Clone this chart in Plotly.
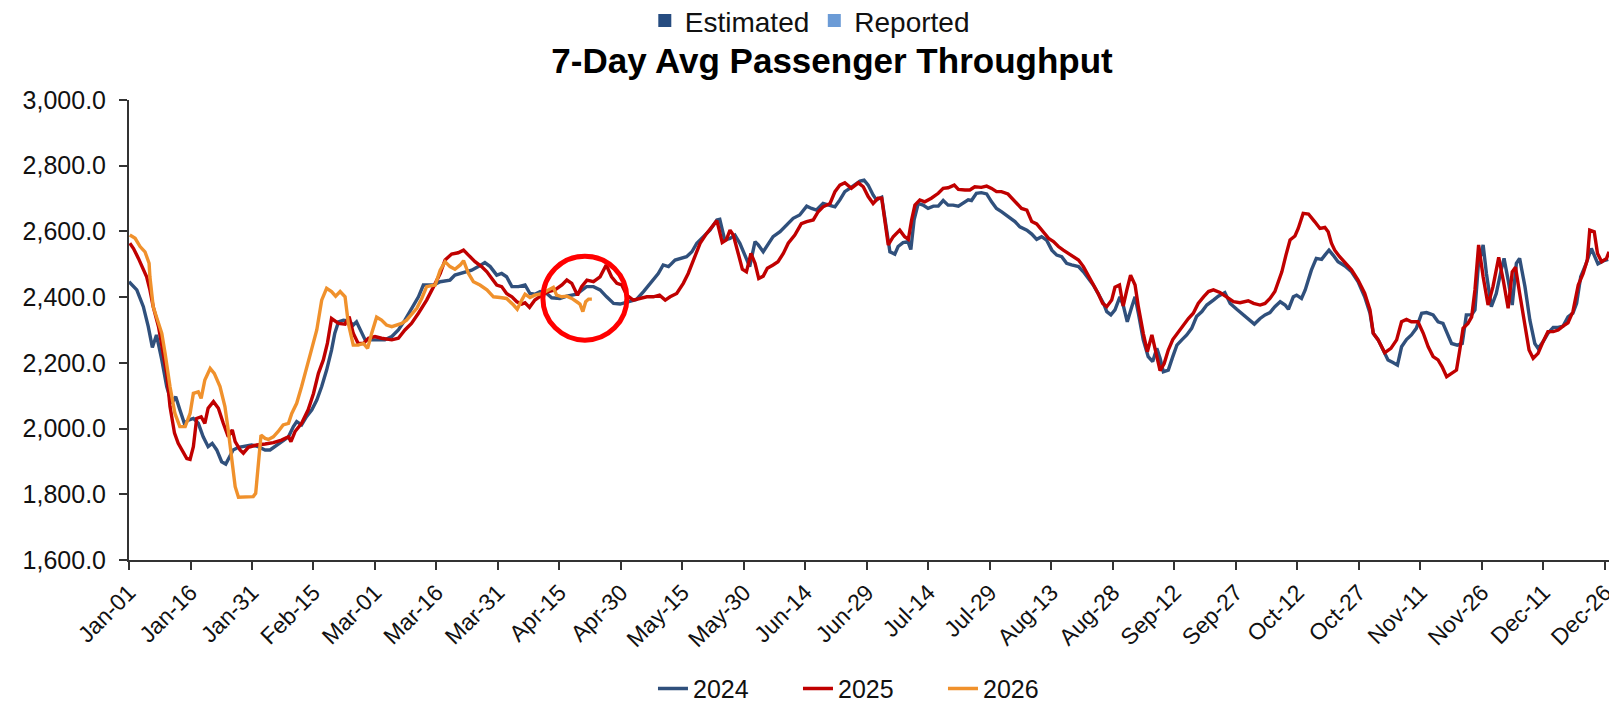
import plotly.graph_objects as go

# day-of-year (Jan-01 = 0, leap-year calendar) and 7-day average throughput (thousands)
DAYS_2024 = [0, 1.9, 3.5, 4.7, 5.7, 6.7, 8.0, 9.2, 10.4, 11.4, 12.4, 13.5, 14.5, 15.7, 16.9, 18.1, 19.3, 20.3, 21.4, 22.6,
             23.6, 24.6, 25.4, 26.7, 28.3, 29.9, 31.5, 33.2, 34.4, 35.6, 37.2, 38.9, 40.1, 40.9, 42.1, 43.3, 44.6, 45.8,
             47.0, 48.2, 49.4, 50.2, 51.1, 52.3, 53.5, 54.7, 55.5, 56.3, 57.6, 59.2, 60.8, 62.4, 64.1, 65.7, 67.3, 68.9,
             70.6, 71.8, 74.3, 75.9, 78.3, 79.5, 81.6, 83.6, 85.2, 86.8, 88.1, 89.7, 90.9, 92.1, 93.4, 95.0, 96.6, 97.8,
             99.0, 100.3, 101.9, 103.1, 105.1, 106.8, 109.2, 111.6, 113.3, 114.9, 116.5, 118.2, 119.8, 121.8, 123.8,
             125.5, 127.1, 129.1, 130.3, 131.6, 133.2, 134.8, 136.0, 137.3, 138.5, 141.7, 143.4, 144.1, 144.7, 145.3,
             146.6, 147.8, 149.0, 150.2, 151.4, 152.7, 153.5, 154.7, 155.9, 157.1, 158.8, 160.4, 162.0, 163.6, 165.3,
             166.5, 167.7, 169.3, 171.0, 172.2, 173.4, 174.6, 175.8, 177.0, 178.3, 179.3, 180.3, 181.5, 182.3, 183.6,
             184.2, 184.8, 185.6, 186.8, 187.6, 188.8, 190.0, 190.7, 191.5, 192.5, 193.7, 194.9, 196.2, 197.4, 198.6,
             199.8, 201.0, 202.3, 203.5, 204.7, 205.5, 206.7, 207.9, 209.2, 210.4, 211.6, 212.8, 214.4, 216.1, 217.3,
             219.0, 220.2, 221.4, 222.6, 223.8, 225.1, 226.3, 227.5, 228.7, 229.9, 231.6, 232.8, 234.0, 235.2, 236.4,
             237.7, 238.5, 239.5, 240.5, 241.7, 242.5, 243.5, 244.6, 245.4, 246.2, 247.4, 248.6, 249.7, 250.7, 251.5,
             252.3, 253.5, 254.6, 255.6, 256.8, 258.0, 259.2, 260.4, 261.7, 262.9, 264.5, 265.7, 267.3, 268.6, 270.2,
             271.8, 273.4, 274.5, 275.9, 277.1, 278.3, 279.5, 280.8, 282.0, 282.8, 284.0, 284.8, 286.0, 286.9, 288.4,
             289.6, 290.9, 291.7, 292.7, 293.7, 294.9, 296.6, 298.2, 299.8, 301.4, 302.7, 303.5, 304.7, 305.9, 307.1,
             308.3, 309.4, 310.4, 311.6, 312.8, 314.0, 315.3, 316.5, 318.1, 319.3, 320.5, 321.6, 322.6, 324.0, 325.2,
             326.2, 327.5, 328.3, 329.1, 330.3, 331.1, 332.3, 333.5, 334.8, 335.4, 336.4, 337.4, 338.4, 339.2, 340.5,
             341.7, 342.9, 343.7, 344.9, 346.1, 347.4, 348.6, 349.8, 351.0, 352.2, 353.1, 354.1, 355.3, 356.7, 358.3,
             359.6, 360.8]
VALUES_2024 = [2447, 2422, 2371, 2310, 2247, 2285, 2209, 2128, 2077, 2097, 2057, 2016, 2026, 2031, 2016, 1975, 1945, 1955,
               1935, 1899, 1892, 1914, 1935, 1943, 1947, 1950, 1945, 1935, 1935, 1945, 1960, 1975, 2006, 2021, 2011, 2036,
               2057, 2087, 2128, 2178, 2239, 2290, 2325, 2330, 2328, 2315, 2325, 2305, 2270, 2270, 2270, 2270, 2280, 2300,
               2330, 2366, 2401, 2437, 2437, 2447, 2452, 2467, 2474, 2482, 2493, 2505, 2493, 2467, 2472, 2462, 2432, 2432,
               2437, 2411, 2409, 2417, 2411, 2398, 2396, 2403, 2409, 2432, 2432, 2422, 2401, 2381, 2379, 2386, 2393, 2417,
               2442, 2472, 2498, 2493, 2513, 2518, 2523, 2538, 2564, 2604, 2635, 2637, 2604, 2574, 2579, 2589, 2564, 2528,
               2493, 2569, 2559, 2538, 2559, 2584, 2599, 2619, 2640, 2650, 2677, 2670, 2665, 2685, 2680, 2675, 2696, 2721,
               2731, 2741, 2753, 2756, 2741, 2711, 2696, 2704, 2655, 2594, 2538, 2531, 2554, 2566, 2569, 2545, 2635, 2685,
               2680, 2670, 2677, 2677, 2694, 2680, 2680, 2677, 2687, 2696, 2694, 2716, 2718, 2714, 2690, 2670, 2660, 2645,
               2630, 2614, 2604, 2592, 2576, 2584, 2574, 2543, 2528, 2523, 2503, 2498, 2493, 2477, 2457, 2437, 2411, 2381,
               2356, 2346, 2361, 2401, 2376, 2325, 2371, 2401, 2351, 2270, 2219, 2204, 2244, 2214, 2173, 2178, 2219, 2254,
               2270, 2285, 2305, 2341, 2356, 2376, 2391, 2403, 2414, 2381, 2363, 2346, 2328, 2318, 2335, 2346, 2353, 2371,
               2386, 2376, 2363, 2401, 2406, 2396, 2422, 2482, 2518, 2515, 2528, 2543, 2528, 2508, 2495, 2477, 2447, 2401,
               2351, 2290, 2270, 2239, 2209, 2201, 2193, 2249, 2271, 2285, 2305, 2351, 2353, 2346, 2325, 2320, 2285, 2259,
               2254, 2259, 2346, 2346, 2361, 2493, 2559, 2472, 2371, 2411, 2488, 2518, 2452, 2376, 2503, 2518, 2432, 2330,
               2259, 2244, 2264, 2290, 2308, 2308, 2312, 2340, 2351, 2381, 2462, 2498, 2548, 2501, 2510, 2515]

DAYS_2025 = [0.2, 1.1, 2.3, 3.5, 4.3, 5.1, 5.9, 7.2, 8.1, 9.2, 10.0, 11.1, 12.0, 13.0, 14.1, 14.9, 15.7, 16.5, 17.6, 18.5,
             19.3, 20.6, 21.8, 23.0, 24.2, 25.2, 25.9, 27.1, 27.9, 29.1, 31.1, 33.2, 35.2, 37.2, 38.9, 39.5, 40.5, 42.1,
             43.7, 45.0, 46.2, 47.4, 48.4, 49.4, 51.1, 52.7, 53.7, 54.7, 55.9, 57.2, 58.4, 60.0, 61.6, 64.1, 65.7, 67.3,
             68.9, 70.6, 72.6, 74.3, 75.9, 77.1, 78.7, 80.3, 81.6, 82.8, 84.4, 86.0, 87.3, 88.5, 89.7, 90.9, 92.1, 93.4,
             94.6, 95.8, 96.6, 97.7, 99.0, 100.7, 102.3, 103.9, 105.6, 106.8, 108.0, 109.4, 110.4, 111.7, 113.3, 114.9,
             116.4, 117.7, 119.0, 120.2, 121.4, 123.0, 124.7, 126.3, 127.9, 129.4, 130.8, 132.0, 133.6, 135.2, 136.4,
             137.7, 139.3, 140.9, 142.1, 143.4, 144.7, 145.7, 146.6, 147.4, 148.6, 149.6, 150.6, 151.7, 152.7, 153.6,
             154.7, 155.7, 157.1, 158.3, 159.6, 160.8, 162.4, 164.0, 165.3, 166.9, 168.1, 169.3, 171.0, 172.2, 173.4,
             174.6, 176.2, 177.9, 179.1, 180.3, 181.5, 182.7, 183.6, 184.4, 185.2, 186.4, 188.0, 189.2, 190.1, 190.9,
             191.7, 192.9, 194.1, 195.7, 197.4, 198.6, 199.8, 201.3, 202.3, 203.9, 205.1, 206.3, 207.9, 209.2, 210.4,
             211.6, 212.8, 214.4, 216.5, 217.7, 219.0, 220.2, 221.4, 223.0, 224.3, 225.5, 226.7, 227.9, 229.1, 230.3,
             231.6, 232.8, 234.0, 235.2, 236.4, 237.5, 238.5, 239.7, 240.5, 241.6, 242.5, 243.4, 244.3, 245.4, 246.2,
             247.4, 248.4, 249.5, 250.4, 251.5, 252.5, 253.5, 254.6, 256.0, 257.2, 258.4, 259.6, 260.8, 262.1, 263.3,
             264.5, 266.1, 267.7, 269.4, 271.0, 273.0, 274.3, 275.9, 277.1, 278.3, 279.5, 280.3, 281.2, 282.2, 283.2,
             284.4, 285.2, 286.4, 287.7, 289.2, 290.5, 291.7, 292.5, 293.3, 294.1, 295.3, 296.6, 298.2, 299.8, 301.4,
             302.7, 303.5, 304.7, 306.3, 307.8, 309.2, 310.4, 311.6, 312.8, 314.4, 315.7, 316.9, 318.1, 319.3, 320.3,
             321.4, 322.6, 323.8, 324.6, 325.4, 326.6, 327.5, 328.3, 329.2, 330.3, 331.5, 332.7, 334.1, 335.2, 336.4,
             337.4, 338.2, 339.2, 340.5, 341.5, 342.5, 343.7, 344.9, 346.1, 347.4, 348.6, 349.8, 351.0, 352.2, 353.5,
             354.7, 355.7, 356.3, 357.4, 358.2, 359.2, 360.4, 361.0]
VALUES_2025 = [2564, 2548, 2518, 2483, 2462, 2422, 2371, 2310, 2249, 2168, 2067, 1986, 1955, 1935, 1909, 1906, 1945, 2031,
               2036, 2016, 2062, 2082, 2062, 2016, 1975, 1996, 1960, 1935, 1925, 1943, 1950, 1953, 1957, 1965, 1975, 1960,
               1991, 2016, 2057, 2107, 2168, 2209, 2260, 2335, 2320, 2318, 2341, 2290, 2259, 2259, 2275, 2280, 2275, 2270,
               2275, 2300, 2320, 2351, 2391, 2432, 2472, 2513, 2531, 2535, 2543, 2528, 2508, 2493, 2477, 2457, 2437, 2432,
               2411, 2401, 2386, 2379, 2383, 2369, 2391, 2406, 2417, 2422, 2437, 2452, 2442, 2406, 2432, 2452, 2447, 2462,
               2498, 2462, 2442, 2437, 2406, 2391, 2396, 2401, 2401, 2406, 2391, 2401, 2411, 2442, 2472, 2513, 2564, 2594,
               2614, 2633, 2566, 2574, 2604, 2589, 2533, 2485, 2477, 2533, 2503, 2457, 2464, 2488, 2498, 2508, 2533, 2564,
               2589, 2624, 2630, 2635, 2660, 2675, 2685, 2721, 2741, 2748, 2731, 2748, 2736, 2706, 2685, 2701, 2701, 2635,
               2559, 2584, 2604, 2584, 2576, 2635, 2680, 2696, 2690, 2701, 2716, 2731, 2733, 2741, 2728, 2726, 2726, 2736,
               2734, 2738, 2731, 2721, 2721, 2714, 2687, 2670, 2665, 2630, 2623, 2599, 2579, 2569, 2554, 2543, 2533, 2521,
               2513, 2493, 2467, 2442, 2411, 2381, 2371, 2391, 2430, 2437, 2373, 2422, 2467, 2437, 2371, 2290, 2234, 2285,
               2239, 2176, 2198, 2239, 2271, 2295, 2315, 2335, 2351, 2381, 2401, 2417, 2422, 2414, 2401, 2386, 2383, 2389,
               2381, 2376, 2381, 2396, 2417, 2442, 2477, 2528, 2574, 2586, 2609, 2655, 2653, 2630, 2609, 2612, 2599, 2564,
               2543, 2523, 2505, 2483, 2452, 2412, 2361, 2290, 2270, 2231, 2244, 2270, 2325, 2332, 2325, 2325, 2290, 2249,
               2219, 2209, 2188, 2158, 2168, 2178, 2239, 2305, 2320, 2340, 2422, 2559, 2462, 2376, 2432, 2521, 2452, 2366,
               2477, 2491, 2412, 2310, 2239, 2214, 2229, 2264, 2295, 2295, 2300, 2312, 2322, 2356, 2437, 2472, 2513, 2604,
               2599, 2533, 2508, 2518, 2538]

DAYS_2026 = [0.2, 1.5, 2.7, 3.9, 4.9, 5.1, 5.9, 7.2, 8.0, 8.8, 10.0, 11.2, 12.4, 13.7, 14.9, 15.7, 16.9, 17.6, 18.5, 19.8,
             20.8, 22.2, 23.4, 24.2, 25.0, 25.9, 26.7, 28.3, 30.3, 30.9, 31.4, 32.2, 33.2, 34.0, 35.2, 36.4, 37.6, 38.9,
             39.7, 40.9, 42.1, 43.3, 44.6, 45.8, 47.0, 48.2, 49.4, 50.4, 51.5, 52.7, 53.5, 54.7, 55.9, 57.2, 58.2, 59.2,
             60.4, 61.6, 62.8, 64.1, 65.3, 66.5, 67.7, 68.9, 70.2, 71.4, 72.6, 74.7, 75.9, 77.1, 78.3, 79.5, 80.8, 81.6,
             82.8, 84.0, 85.6, 87.3, 88.9, 90.5, 92.1, 93.8, 94.7, 95.8, 96.6, 97.8, 99.0, 100.7, 102.3, 103.5, 104.3,
             105.6, 106.8, 108.0, 109.2, 110.0, 110.7, 111.4, 112.1, 112.9]
VALUES_2026 = [2589, 2579, 2554, 2538, 2503, 2462, 2371, 2320, 2290, 2229, 2128, 2046, 2006, 2006, 2046, 2107, 2112, 2092,
               2148, 2183, 2168, 2128, 2067, 1996, 1914, 1823, 1791, 1793, 1793, 1803, 1884, 1980, 1970, 1967, 1975, 1991,
               2011, 2016, 2046, 2077, 2128, 2188, 2244, 2300, 2391, 2427, 2417, 2403, 2417, 2401, 2320, 2254, 2254, 2259,
               2244, 2290, 2339, 2330, 2315, 2310, 2315, 2320, 2330, 2346, 2366, 2396, 2432, 2437, 2482, 2508, 2493, 2485,
               2498, 2511, 2472, 2447, 2437, 2422, 2401, 2399, 2396, 2376, 2363, 2391, 2409, 2399, 2406, 2411, 2422, 2430,
               2406, 2401, 2403, 2396, 2386, 2379, 2356, 2386, 2394, 2394]

TICK_DAYS = list(range(0, 361, 15))
TICK_LABELS = ["Jan-01", "Jan-16", "Jan-31", "Feb-15", "Mar-01", "Mar-16", "Mar-31", "Apr-15", "Apr-30",
               "May-15", "May-30", "Jun-14", "Jun-29", "Jul-14", "Jul-29", "Aug-13", "Aug-28", "Sep-12",
               "Sep-27", "Oct-12", "Oct-27", "Nov-11", "Nov-26", "Dec-11", "Dec-26"]

# circled point (latest 2026 reading vs prior years)
HIGHLIGHT_DAY = 111.2
HIGHLIGHT_VALUE = 2397

FONT = "Liberation Sans, Arial, sans-serif"

fig = go.Figure()

# status legend (top)
fig.add_trace(go.Scatter(x=[None], y=[None], mode="markers", name="Estimated",
                         marker=dict(symbol="square", size=13, color="#264C80"), legend="legend"))
fig.add_trace(go.Scatter(x=[None], y=[None], mode="markers", name="Reported",
                         marker=dict(symbol="square", size=13, color="#6B9BD6"), legend="legend"))

series = [("2024", DAYS_2024, VALUES_2024, "#30507C"),
          ("2025", DAYS_2025, VALUES_2025, "#C00000"),
          ("2026", DAYS_2026, VALUES_2026, "#F0912C")]
for name, xs, ys, color in series:
    fig.add_trace(go.Scatter(x=xs, y=ys, mode="lines", name=name,
                             line=dict(color=color, width=3.4), legend="legend2"))

fig.add_shape(type="circle", xref="x", yref="y", xsizemode="pixel", ysizemode="pixel",
              xanchor=HIGHLIGHT_DAY, yanchor=HIGHLIGHT_VALUE,
              x0=-42, x1=42, y0=-42, y1=42,
              line=dict(color="#FF0000", width=5))

fig.update_layout(
    width=1609,
    height=708,
    paper_bgcolor="white",
    plot_bgcolor="white",
    font=dict(family=FONT, color="#111111", size=22),
    margin=dict(l=129, r=0, t=100, b=148, autoexpand=False),
    title=dict(text="<b>7-Day Avg Passenger Throughput</b>", font=dict(size=35, color="black"),
               x=0.475, xref="paper", xanchor="center", y=1 - 61 / 708, yanchor="middle"),
    legend=dict(orientation="h", x=0.46, xanchor="center", y=1.172, yanchor="middle",
                font=dict(size=28), itemwidth=30, bgcolor="rgba(0,0,0,0)"),
    legend2=dict(orientation="h", x=0.501, xanchor="center", y=-0.28, yanchor="middle",
                 font=dict(size=25), entrywidth=100, entrywidthmode="pixels", bgcolor="rgba(0,0,0,0)"),
    showlegend=True,
)

fig.update_xaxes(range=[0, 361], tickmode="array", tickvals=TICK_DAYS, ticktext=TICK_LABELS,
                 tickangle=-45, showgrid=False, zeroline=False, showline=True, automargin=False,
                 linecolor="#333333", linewidth=2, ticks="outside", ticklen=8, tickwidth=1.5,
                 tickcolor="#333333", tickfont=dict(size=23), ticklabeloverflow="allow")
fig.update_yaxes(range=[1600, 3000], dtick=200, tickformat=",.1f", showgrid=False, zeroline=False,
                 showline=True, linecolor="#333333", linewidth=2, ticks="outside", ticklen=8, automargin=False,
                 tickwidth=1.5, tickcolor="#333333", tickfont=dict(size=25), ticklabelstandoff=8)

fig.write_html("out.html", config={"displayModeBar": False},
               post_script="document.body.style.margin='0';")
